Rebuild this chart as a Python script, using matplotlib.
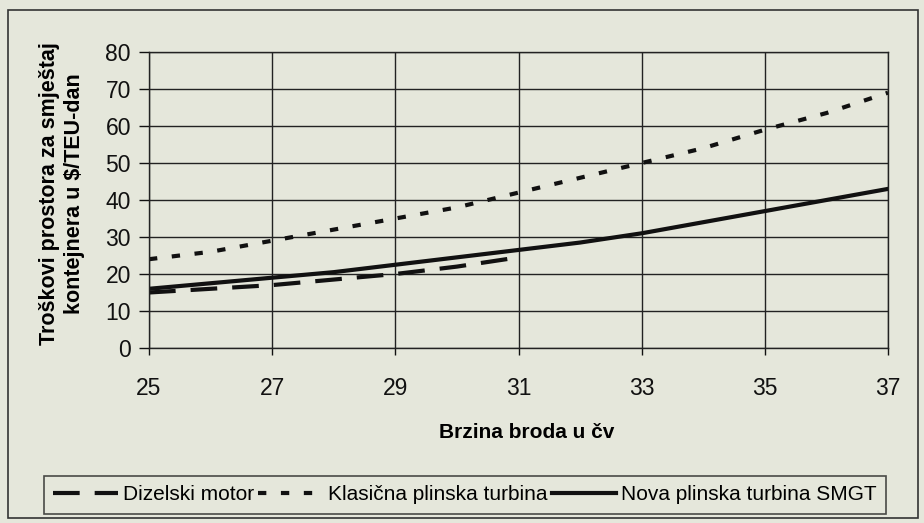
import matplotlib
matplotlib.use("Agg")
import matplotlib.pyplot as plt
from matplotlib.patches import Rectangle

plt.rcParams['font.family'] = ['Liberation Sans', 'DejaVu Sans']

x_dizel = [25, 26, 27, 28, 29, 30, 31]
y_dizel = [15, 16, 17, 18.5, 20, 22, 24.5]
x_klas = [25, 26, 27, 28, 29, 30, 31, 32, 33, 34, 35, 36, 37]
y_klas = [24, 26, 29, 32, 35, 38, 42, 46, 50, 54, 59, 63.5, 69]
x_nova = [25, 26, 27, 28, 29, 30, 31, 32, 33, 34, 35, 36, 37]
y_nova = [16, 17.5, 19, 20.5, 22.5, 24.5, 26.5, 28.5, 31, 34, 37, 40, 43]
labels = ['Dizelski motor', 'Klasična plinska turbina', 'Nova plinska turbina SMGT']
xticks = [25, 27, 29, 31, 33, 35, 37]
yticks = [0, 10, 20, 30, 40, 50, 60, 70, 80]

bg = '#e5e7db'
W, H = 924, 523
fig = plt.figure(figsize=(9.24, 5.23), dpi=100, facecolor=bg)
L, R, T, B = 149, 888, 52, 348
ax = fig.add_axes([L / W, 1 - B / H, (R - L) / W, (B - T) / H], facecolor=bg)

l1, = ax.plot(x_dizel, y_dizel, color='#111111', lw=3.0, linestyle=(0, (6.4, 3.6)), dash_capstyle='butt')
l2, = ax.plot(x_klas, y_klas, color='#111111', lw=3.0, linestyle=(0, (2.0, 3.5)), dash_capstyle='butt')
l3, = ax.plot(x_nova, y_nova, color='#111111', lw=3.0)

ax.set_xlim(25, 37)
ax.set_ylim(0, 80)
ax.set_xticks(xticks)
ax.set_yticks(yticks)
ax.grid(True, color='#222222', lw=1.0)
ax.set_axisbelow(True)
for s in ax.spines.values():
    s.set_color('#222222')
    s.set_linewidth(1.0)
ax.tick_params(axis='both', labelsize=16.5, colors='#111111', direction='out', width=1)
ax.tick_params(axis='y', length=7, pad=6)
ax.tick_params(axis='x', length=5, pad=16)
ax.set_xlabel('Brzina broda u čv', fontsize=15, fontweight='bold')
ax.xaxis.set_label_coords(((437 + 617) / 2 - L) / (R - L), 1 - (432 - T) / (B - T))
ax.xaxis.label.set_va('center')
ax.set_ylabel('Troškovi prostora za smještaj\nkontejnera u \\$/TEU-dan', fontsize=15.5,
              fontweight='bold', linespacing=1.25)
ax.yaxis.set_label_coords((62 - L) / (R - L), 1 - (194 - T) / (B - T))
ax.yaxis.label.set_va('center')

# outer frame
fig.patches.append(Rectangle((8 / W, 1 - 518 / H), (918 - 8) / W, (518 - 10) / H,
                             transform=fig.transFigure, fill=False, edgecolor='#333333', lw=1.2))

leg = fig.legend([l1, l2, l3], labels, loc='center', bbox_to_anchor=(465 / W, 1 - 495 / H),
                 ncol=3, frameon=True, fontsize=15, handlelength=3.1, handletextpad=0.25,
                 columnspacing=0.2, borderpad=0.45, borderaxespad=0, fancybox=False,
                 facecolor=bg, edgecolor='#222222')
leg.get_frame().set_linewidth(1.2)

fig.savefig('out.png', dpi=100, facecolor=bg)
